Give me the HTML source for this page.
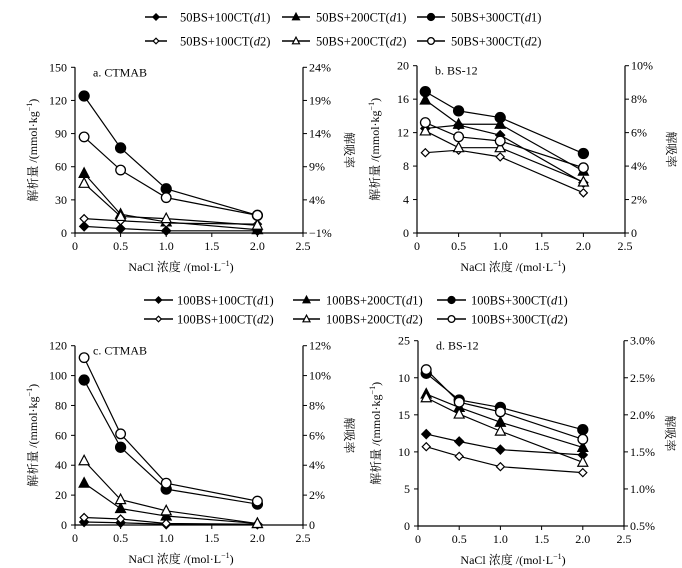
<!DOCTYPE html>
<html><head><meta charset="utf-8"><style>
body{margin:0;background:#fff}
svg{display:block;font-family:"Liberation Serif","Noto Serif CJK SC",serif}
</style></head><body>
<svg id="c" width="682" height="568" viewBox="0 0 682 568"></svg>
<script>
const xVals=[0.1,0.5,1.0,2.0];
const xTicks=["0","0.5","1.0","1.5","2.0","2.5"];
const seriesKeys=["fd","ft","fc","od","ot","oc"];
// panel a
const aFD=[6,4,2,2],aFT=[54,17,10,3],aFC=[124,77,40,16],aOD=[13,11,9,8],aOT=[45,15,13,7],aOC=[87,57,32,16];
const aLeft=["0","30","60","90","120","150"],aRight=["−1%","4%","9%","14%","19%","24%"];
// panel b
const bFD=[12.5,12.9,11.7,6],bFT=[15.9,13,13,7.4],bFC=[16.9,14.6,13.8,9.5],bOD=[9.6,9.9,9.1,4.8],bOT=[12.2,10.2,10.2,6.1],bOC=[13.2,11.5,11,7.8];
const bLeft=["0","4","8","12","16","20"],bRight=["0","2%","4%","6%","8%","10%"];
// panel c
const cFD=[2,1.5,0.5,0.5],cFT=[28,11,6,1],cFC=[97,52,24,14],cOD=[5,4,1,0.5],cOT=[43,17,9.5,1],cOC=[112,61,28,16];
const cLeft=["0","20","40","60","80","100","120"],cRight=["0","2%","4%","6%","8%","10%","12%"];
// panel d
const dFD=[12.4,11.4,10.3,9.6],dFT=[17.8,16,14,10.6],dFC=[20.6,17,16,13],dOD=[10.7,9.4,8,7.2],dOT=[17.3,15.1,12.8,8.6],dOC=[21.1,16.7,15.4,11.7];
const dLeft=["0","5","10","15","10","25"],dRight=["0.5%","1.0%","1.5%","2.0%","2.5%","3.0%"];

const svg=document.getElementById('c');
const NS='http://www.w3.org/2000/svg';
function el(t,a,p){const e=document.createElementNS(NS,t);for(const k in a)e.setAttribute(k,a[k]);(p||svg).appendChild(e);return e;}
function txt(s,a,p){const e=el('text',a,p);e.textContent=s;return e;}
function marker(g,kind,x,y,s){
  s=s||1;
  const fill=kind[0]==='f'?'#000':'#fff';let m;
  if(kind[1]==='d'){const r=(kind[0]==='f'?4.5:4)*s;m=el('polygon',{points:`${x},${y-r} ${x+r},${y} ${x},${y+r} ${x-r},${y}`,fill,stroke:'#000','stroke-width':1.2},g);}
  else if(kind[1]==='t'){m=el('polygon',{points:`${x},${y-5.5*s} ${x+5*s},${y+4*s} ${x-5*s},${y+4*s}`,fill,stroke:'#000','stroke-width':1.2},g);}
  else {m=el('circle',{cx:x,cy:y,r:(kind[0]==='f'?5:4.8)*s,fill,stroke:'#000','stroke-width':1.3},g);}
  
  
}
function panel(id,x0,x1,yTop,yBot,ymax,left,right,title,data){
  const g=el('g',{});
  
  
  const sx=v=>x0+(x1-x0)*v/2.5, sy=v=>yBot-(yBot-yTop)*v/ymax;
  const ax=el('path',{d:`M${x0},${yTop}V${yBot}H${x1}V${yTop}`,fill:'none',stroke:'#000','stroke-width':1.2},g);
  
  
  const n=left.length-1;
  left.forEach((l,i)=>{const y=yBot-(yBot-yTop)*i/n;
    el('line',{x1:x0-4,x2:x0,y1:y,y2:y,stroke:'#000'},g);
    const t=txt(l,{x:x0-8,y:y+4,'text-anchor':'end','font-size':12},g);
    
    });
  right.forEach((l,i)=>{const y=yBot-(yBot-yTop)*i/n;
    el('line',{x1:x1,x2:x1+4,y1:y,y2:y,stroke:'#000'},g);
    const t=txt(l,{x:x1+6,y:y+4,'font-size':12},g);
    
    });
  xTicks.forEach((l,i)=>{const x=sx(i*0.5);
    el('line',{x1:x,x2:x,y1:yBot,y2:yBot+4,stroke:'#000'},g);
    const t=txt(l,{x:x,y:yBot+17,'text-anchor':'middle','font-size':12},g);
    
    });
  const tt=txt(title,{x:x0+18,y:yTop+9,'font-size':12},g);
  
  
  const xt=txt('NaCl 浓度 /(mol·L',{x:(x0+x1)/2-8,y:yBot+38,'text-anchor':'middle','font-size':12},g);
  const sup=el('tspan',{dy:-5,'font-size':8},xt);sup.textContent='−1';
  const cl=el('tspan',{dy:5},xt);cl.textContent=')';
  
  
  const cy=(yTop+yBot)/2, lx=x0-38;
  const yt=txt('解析量 /(mmol·kg',{x:lx,y:cy,'text-anchor':'middle','font-size':12,transform:`rotate(-90 ${lx} ${cy})`},g);
  const s2=el('tspan',{dy:-5,'font-size':8},yt);s2.textContent='−1';
  const c2=el('tspan',{dy:5},yt);c2.textContent=')';
  
  
  const rx=x1+42;
  const rt=txt('解吸率',{x:rx,y:cy,'text-anchor':'middle','font-size':12,transform:`rotate(90 ${rx} ${cy})`},g);
  
  
  data.forEach((vals,k)=>{
    const kind=seriesKeys[k];
    const pl=el('polyline',{points:vals.map((v,i)=>sx(xVals[i])+','+sy(v)).join(' '),fill:'none',stroke:'#000','stroke-width':1.2},g);
    
    
  });
  data.forEach((vals,k)=>vals.forEach((v,i)=>marker(g,seriesKeys[k],sx(xVals[i]),sy(v))));
}
panel('a',75,303,67.3,233,150,aLeft,aRight,'a. CTMAB',[aFD,aFT,aFC,aOD,aOT,aOC]);
panel('b',417,625,65.7,233,20,bLeft,bRight,'b. BS-12',[bFD,bFT,bFC,bOD,bOT,bOC]);
panel('c',75,303,345.7,525,120,cLeft,cRight,'c. CTMAB',[cFD,cFT,cFC,cOD,cOT,cOC]);
panel('d',418,624,340.7,526,25,dLeft,dRight,'d. BS-12',[dFD,dFT,dFC,dOD,dOT,dOC]);

function legend(prefix,rows,cols){
  const lg=el('g',{});
  
  
  const labels=['100CT','200CT','300CT'];const kinds=[['fd','ft','fc'],['od','ot','oc']];
  rows.forEach((y,r)=>cols.forEach((c,ci)=>{
    const e=el('g',{},lg);
    
    
    el('line',{x1:c[0],x2:c[1],y1:y,y2:y,stroke:'#000','stroke-width':1.4},e);
    marker(e,kinds[r][ci],(c[0]+c[1])/2,y,0.7);
    const t=txt(prefix+'BS+'+labels[ci]+'(',{x:c[2],y:y+4.5,'font-size':12.5},e);
    const it=el('tspan',{'font-style':'italic'},t);it.textContent='d';
    const n=el('tspan',{},t);n.textContent=(r+1)+')';
  }));
}
legend('50',[17,41],[[145,167,180],[282,310,316],[417,445,451]]);
legend('100',[300,319],[[144,173,177],[293,320,326],[437,466,471]]);
</script>
</body></html>
